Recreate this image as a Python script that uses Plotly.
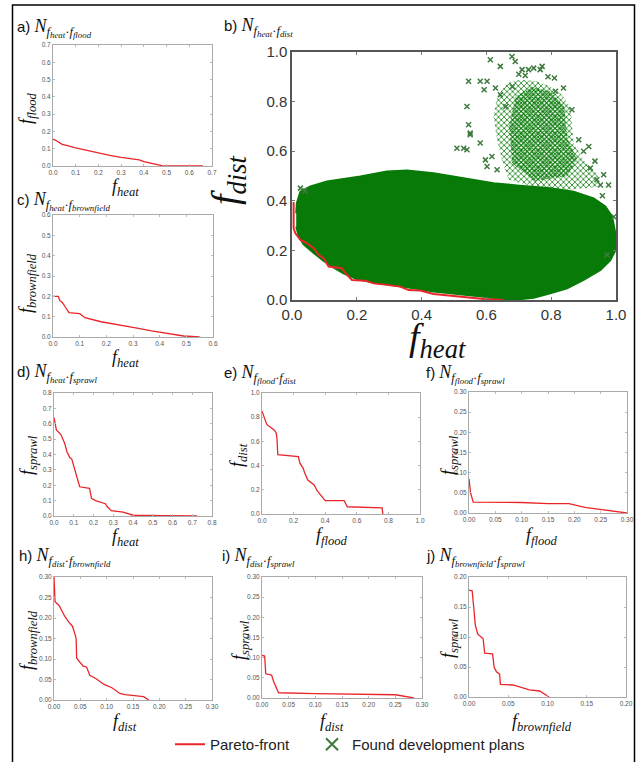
import plotly.graph_objects as go

W, H = 637, 762

# ---------------- DATA ----------------
# Panel b: dense cloud of found development plans (outline of the solid region)
blob_x = [0.013, 0.015, 0.026, 0.057, 0.108, 0.149, 0.211, 0.293, 0.355, 0.437, 0.499, 0.561, 0.622,
          0.694, 0.797, 0.869, 0.931, 0.967, 0.988, 0.998, 0.998, 0.982, 0.952, 0.900, 0.849, 0.797,
          0.746, 0.694, 0.643, 0.592, 0.540, 0.489, 0.437, 0.376, 0.314, 0.252, 0.200, 0.159, 0.129,
          0.098, 0.067, 0.036, 0.021, 0.013]
blob_y = [0.350, 0.390, 0.437, 0.458, 0.478, 0.485, 0.498, 0.518, 0.522, 0.511, 0.498, 0.485, 0.471,
          0.462, 0.451, 0.437, 0.410, 0.377, 0.336, 0.269, 0.200, 0.160, 0.121, 0.081, 0.047, 0.027,
          0.009, 0.002, 0.004, 0.013, 0.020, 0.027, 0.034, 0.047, 0.058, 0.070, 0.085, 0.107, 0.130,
          0.157, 0.190, 0.224, 0.258, 0.296]
# Panel b: sparse upper cluster (outer) and its denser core
upper_x = [0.669, 0.648, 0.633, 0.622, 0.633, 0.664, 0.705, 0.756, 0.797, 0.828, 0.859, 0.864, 0.869,
           0.900, 0.941, 0.952, 0.849, 0.746]
upper_y = [0.485, 0.565, 0.646, 0.740, 0.821, 0.875, 0.888, 0.882, 0.861, 0.834, 0.781, 0.700, 0.633,
           0.565, 0.511, 0.458, 0.444, 0.458]
core_x = [0.680, 0.670, 0.690, 0.740, 0.800, 0.840, 0.850, 0.880, 0.850, 0.750]
core_y = [0.550, 0.700, 0.820, 0.860, 0.840, 0.780, 0.650, 0.570, 0.500, 0.480]
# Panel b: individual scattered plans
plans_x = [0.612, 0.679, 0.689, 0.643, 0.710, 0.730, 0.746, 0.766, 0.772, 0.545, 0.581, 0.602, 0.628,
           0.593, 0.643, 0.838, 0.813, 0.540, 0.545, 0.550, 0.550, 0.540, 0.509, 0.530, 0.581, 0.597,
           0.602, 0.617, 0.633, 0.885, 0.916, 0.864, 0.921, 0.941, 0.962, 0.952, 0.977, 0.993, 0.972,
           0.026, 0.040, 0.700, 0.720, 0.790, 0.810, 0.660, 0.680, 0.900, 0.935, 0.958]
plans_y = [0.969, 0.982, 0.962, 0.942, 0.929, 0.929, 0.935, 0.929, 0.942, 0.882, 0.882, 0.882, 0.855,
           0.848, 0.828, 0.855, 0.842, 0.780, 0.707, 0.673, 0.666, 0.606, 0.612, 0.612, 0.633, 0.565,
           0.538, 0.579, 0.525, 0.646, 0.619, 0.767, 0.532, 0.485, 0.505, 0.464, 0.464, 0.336, 0.182,
           0.451, 0.440, 0.910, 0.905, 0.900, 0.895, 0.780, 0.860, 0.600, 0.560, 0.420]
# Panel b: Pareto front f_heat vs f_dist
front_b_x = [0.005, 0.005, 0.010, 0.026, 0.046, 0.067, 0.082, 0.098, 0.113, 0.154, 0.165, 0.185, 0.226,
             0.252, 0.293, 0.334, 0.360, 0.396, 0.437, 0.520, 0.592, 0.653]
front_b_y = [0.395, 0.290, 0.270, 0.242, 0.229, 0.209, 0.182, 0.168, 0.135, 0.128, 0.108, 0.081, 0.078,
             0.067, 0.061, 0.054, 0.040, 0.038, 0.024, 0.013, 0.004, 0.000]

# Panel a: f_heat vs f_flood
front_a_x = [0.0, 0.01, 0.04, 0.06, 0.10, 0.15, 0.20, 0.25, 0.30, 0.35, 0.38, 0.40, 0.43, 0.46, 0.48, 0.55, 0.66]
front_a_y = [0.155, 0.150, 0.125, 0.120, 0.105, 0.090, 0.075, 0.062, 0.050, 0.040, 0.035, 0.025, 0.018,
             0.008, 0.002, 0.0, 0.0]
# Panel c: f_heat vs f_brownfield
front_c_x = [0.0, 0.02, 0.025, 0.035, 0.045, 0.05, 0.06, 0.10, 0.11, 0.12, 0.18, 0.25, 0.31, 0.37, 0.44, 0.49, 0.55]
front_c_y = [0.20, 0.20, 0.18, 0.17, 0.15, 0.14, 0.12, 0.115, 0.105, 0.095, 0.075, 0.06, 0.045, 0.03, 0.015,
             0.005, 0.0]
# Panel d: f_heat vs f_sprawl
front_d_x = [0.0, 0.012, 0.035, 0.05, 0.055, 0.065, 0.08, 0.09, 0.105, 0.115, 0.13, 0.18, 0.185, 0.19, 0.21,
             0.24, 0.26, 0.27, 0.29, 0.35, 0.40, 0.55, 0.70, 0.725]
front_d_y = [0.64, 0.56, 0.53, 0.49, 0.47, 0.42, 0.38, 0.37, 0.30, 0.27, 0.19, 0.18, 0.13, 0.115, 0.10, 0.09,
             0.08, 0.06, 0.035, 0.025, 0.005, 0.003, 0.003, 0.0]
# Panel e: f_flood vs f_dist
front_e_x = [0.0, 0.03, 0.08, 0.09, 0.095, 0.10, 0.23, 0.24, 0.26, 0.27, 0.29, 0.33, 0.35, 0.40, 0.52, 0.54,
             0.76, 0.765]
front_e_y = [0.85, 0.74, 0.69, 0.67, 0.62, 0.49, 0.475, 0.42, 0.38, 0.34, 0.28, 0.24, 0.19, 0.11, 0.11, 0.06,
             0.05, 0.0]
# Panel f: f_flood vs f_sprawl
front_f_x = [0.0, 0.003, 0.008, 0.10, 0.15, 0.19, 0.22, 0.26, 0.30]
front_f_y = [0.085, 0.05, 0.027, 0.026, 0.023, 0.023, 0.014, 0.007, 0.0]
# Panel h: f_dist vs f_brownfield
front_h_x = [0.0, 0.002, 0.01, 0.02, 0.028, 0.035, 0.04, 0.042, 0.043, 0.05, 0.055, 0.062, 0.068, 0.08,
             0.095, 0.11, 0.125, 0.135, 0.17, 0.18]
front_h_y = [0.30, 0.24, 0.23, 0.205, 0.19, 0.18, 0.16, 0.15, 0.102, 0.092, 0.083, 0.08, 0.06, 0.052, 0.038,
             0.03, 0.016, 0.013, 0.008, 0.0]
# Panel i: f_dist vs f_sprawl
front_i_x = [0.0, 0.005, 0.007, 0.018, 0.022, 0.027, 0.031, 0.10, 0.20, 0.25, 0.285]
front_i_y = [0.106, 0.104, 0.06, 0.057, 0.04, 0.025, 0.013, 0.011, 0.009, 0.008, 0.0]
# Panel j: f_brownfield vs f_sprawl
front_j_x = [0.0, 0.004, 0.006, 0.008, 0.011, 0.018, 0.02, 0.03, 0.032, 0.035, 0.039, 0.04, 0.056, 0.077,
             0.09, 0.102]
front_j_y = [0.178, 0.177, 0.15, 0.12, 0.105, 0.097, 0.073, 0.072, 0.05, 0.042, 0.038, 0.021, 0.02, 0.012,
             0.01, 0.0]

# Tick values
ticks_07 = [0.0, 0.1, 0.2, 0.3, 0.4, 0.5, 0.6, 0.7]
ticks_06 = [0.0, 0.1, 0.2, 0.3, 0.4, 0.5, 0.6]
ticks_08 = [0.0, 0.1, 0.2, 0.3, 0.4, 0.5, 0.6, 0.7, 0.8]
ticks_10 = [0.0, 0.2, 0.4, 0.6, 0.8, 1.0]
ticks_030 = [0.0, 0.05, 0.10, 0.15, 0.20, 0.25, 0.30]
ticks_020 = [0.0, 0.05, 0.10, 0.15, 0.20]

# ---------------- FIGURE ----------------
SERIF = "Liberation Serif"
SANS = "Liberation Sans"
RED = "#e8262a"
GREEN = "#077a07"

def sym(name):
    return "<i>f</i><sub><i>%s</i></sub>" % name

def title_txt(letter, a, b):
    return ('%s) <span style="font-family:%s;font-size:18px"><i>N</i><sub><i>f</i><sub><i>%s</i></sub>·<i>f</i>'
            '<sub><i>%s</i></sub></sub></span>') % (letter, SERIF, a, b)

fig = go.Figure()

panels = [
    (2, (53, 45, 212, 166), ticks_07, ticks_07, ".1f", ".1f", "heat", "flood", "a", (15, 28), (125, 188), (28, 108), (front_a_x, front_a_y)),
    (3, (53, 215, 213, 337), ticks_06, ticks_06, ".1f", ".1f", "heat", "brownfield", "c", (15, 201), (125, 358), (28, 283), (front_c_x, front_c_y)),
    (4, (54, 393, 212, 516), ticks_08, ticks_08, ".1f", ".1f", "heat", "sprawl", "d", (15, 373), (125, 537), (28, 455), (front_d_x, front_d_y)),
    (5, (262, 393, 420, 514), ticks_10, ticks_10, ".1f", ".1f", "flood", "dist", "e", (222, 374), (332, 536), (238, 455), (front_e_x, front_e_y)),
    (6, (469, 392, 627, 513), ticks_030, ticks_030, ".2f", ".2f", "flood", "sprawl", "f", (424, 374), (542, 536), (449, 455), (front_f_x, front_f_y)),
    (7, (54, 577, 212, 700), ticks_030, ticks_030, ".2f", ".2f", "dist", "brownfield", "h", (17, 557), (125, 722), (28, 640), (front_h_x, front_h_y)),
    (8, (262, 577, 422, 698), ticks_030, ticks_030, ".2f", ".2f", "dist", "sprawl", "i", (220, 557), (332, 722), (240, 640), (front_i_x, front_i_y)),
    (9, (469, 577, 626, 697), ticks_020, ticks_020, ".2f", ".2f", "brownfield", "sprawl", "j", (424, 557), (542, 722), (449, 638), (front_j_x, front_j_y)),
]

annotations = []
layout_axes = {}

def add_annot(text, px, py, size, xanchor="center", angle=0, family=SERIF, color="#111"):
    annotations.append(dict(text=text, x=px / W, y=1 - py / H, xref="paper", yref="paper",
                            xanchor=xanchor, yanchor="middle", showarrow=False, textangle=angle,
                            font=dict(family=family, size=size, color=color)))

# Big panel b (axis 1)
bx0, by0, bx1, by1 = 292, 52, 616, 300
big_common = dict(range=[0, 1], tickvals=ticks_10, tickformat=".1f", showgrid=False, zeroline=False,
                  showline=True, linecolor="#555", linewidth=1.5, mirror="ticks", ticks="inside",
                  ticklen=3, tickcolor="#777", automargin=False,
                  tickfont=dict(family=SANS, size=15, color="#333"))
layout_axes["xaxis"] = dict(domain=[bx0 / W, bx1 / W], anchor="y", **big_common)
layout_axes["yaxis"] = dict(domain=[1 - by1 / H, 1 - by0 / H], anchor="x", **big_common)

fig.add_trace(go.Scatter(x=upper_x, y=upper_y, fill="toself", mode="lines", line=dict(width=0),
                         fillcolor="rgba(7,122,7,0.12)",
                         fillpattern=dict(shape="x", fgcolor=GREEN, bgcolor="rgba(0,0,0,0)", size=4, solidity=0.35),
                         showlegend=False, hoverinfo="skip", xaxis="x", yaxis="y"))
fig.add_trace(go.Scatter(x=core_x, y=core_y, fill="toself", mode="lines", line=dict(width=0),
                         fillcolor="rgba(7,122,7,0.3)",
                         fillpattern=dict(shape="x", fgcolor=GREEN, bgcolor="rgba(0,0,0,0)", size=3, solidity=0.55),
                         showlegend=False, hoverinfo="skip", xaxis="x", yaxis="y"))
fig.add_trace(go.Scatter(x=blob_x, y=blob_y, fill="toself", mode="lines", line=dict(color=GREEN, width=2),
                         fillcolor=GREEN, showlegend=False, hoverinfo="skip", xaxis="x", yaxis="y"))
fig.add_trace(go.Scatter(x=plans_x, y=plans_y, mode="markers", name="Found development plans",
                         marker=dict(symbol="x-thin", size=5, color=GREEN, line=dict(width=1.5, color="#3d7a3d")),
                         legend="legend2", xaxis="x", yaxis="y"))
fig.add_trace(go.Scatter(x=front_b_x, y=front_b_y, mode="lines", name="Pareto-front",
                         line=dict(color=RED, width=2), legend="legend", xaxis="x", yaxis="y"))
add_annot('b) <span style="font-family:%s;font-size:18px"><i>N</i><sub><i>f</i><sub><i>heat</i></sub>·<i>f</i><sub><i>dist</i></sub></sub></span>' % SERIF,
          222, 27, 15, xanchor="left", family=SANS)
add_annot(sym("heat"), 438, 340, 38)
add_annot(sym("dist"), 228, 180, 38, angle=-90)

for (ax, (x0, y0, x1, y1), xt, yt, fx, fy, xn, yn, letter, tpos, xpos, ypos, (dx, dy)) in panels:
    common = dict(showgrid=False, zeroline=False, showline=True, linecolor="#aaa", linewidth=1,
                  mirror="ticks", ticks="inside", ticklen=2, tickcolor="#bbb", automargin=False,
                  tickfont=dict(family=SANS, size=6.5, color="#555"))
    layout_axes["xaxis%d" % ax] = dict(domain=[x0 / W, x1 / W], range=[0, xt[-1]], tickvals=xt, tickformat=fx,
                                       anchor="y%d" % ax, **common)
    layout_axes["yaxis%d" % ax] = dict(domain=[1 - y1 / H, 1 - y0 / H], range=[0, yt[-1]], tickvals=yt,
                                       tickformat=fy, anchor="x%d" % ax, **common)
    fig.add_trace(go.Scatter(x=dx, y=dy, mode="lines", line=dict(color=RED, width=1.3), showlegend=False,
                             xaxis="x%d" % ax, yaxis="y%d" % ax))
    add_annot(title_txt(letter, xn, yn), tpos[0], tpos[1], 15, xanchor="left", family=SANS)
    add_annot(sym(xn), xpos[0], xpos[1], 18)
    add_annot(sym(yn), ypos[0], ypos[1], 18, angle=-90)

legend_style = dict(orientation="h", xanchor="left", yanchor="top", y=1 - 728 / H,
                    font=dict(family=SANS, size=15, color="#222"), bgcolor="rgba(0,0,0,0)")

fig.update_layout(
    template="none",
    width=W, height=H, margin=dict(l=0, r=0, t=0, b=0, autoexpand=False),
    paper_bgcolor="white", plot_bgcolor="white",
    annotations=annotations,
    shapes=[dict(type="rect", xref="paper", yref="paper", x0=12.5 / W, x1=634.5 / W, y0=-0.05, y1=1 - 5 / H,
                 line=dict(color="black", width=1.5), layer="below")],
    showlegend=True,
    legend=dict(x=170 / W, **legend_style),
    legend2=dict(x=312 / W, itemsizing="constant", **legend_style),
    **layout_axes,
)

fig.write_html("out.html", post_script="document.body.style.margin='0px';",
               config={"displayModeBar": False})
